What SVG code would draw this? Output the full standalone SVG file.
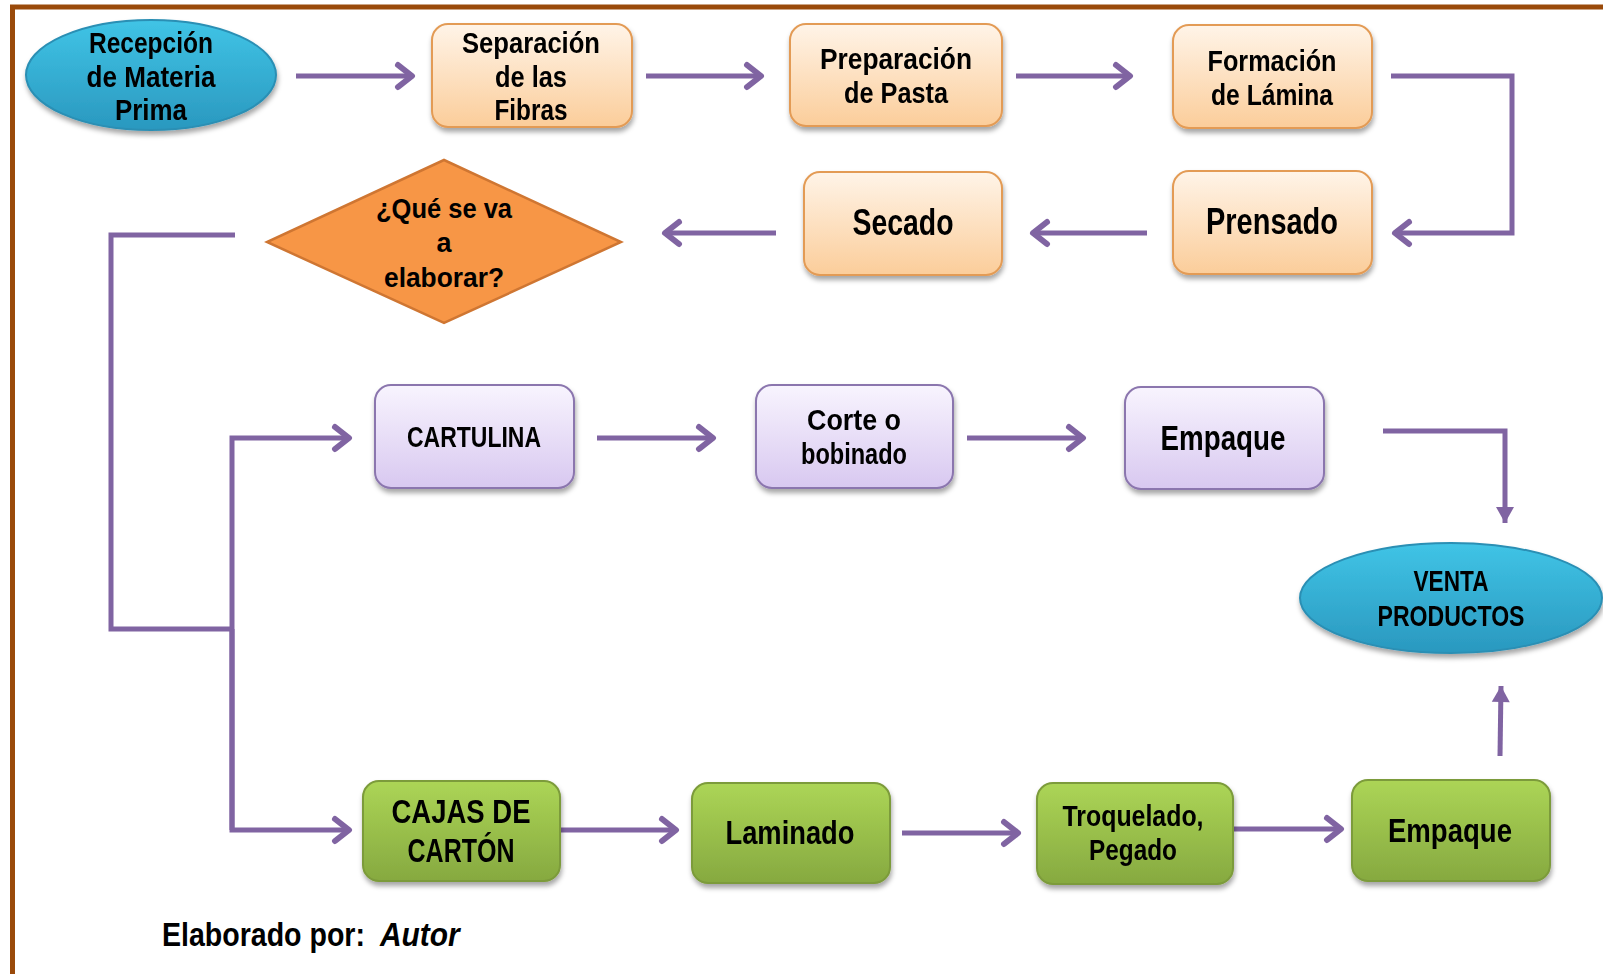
<svg xmlns="http://www.w3.org/2000/svg" width="1603" height="974" viewBox="0 0 1603 974">
<defs>
<linearGradient id="gPeach" x1="0" y1="0" x2="0" y2="1"><stop offset="0" stop-color="#fff4e8"/><stop offset="1" stop-color="#fbcd9a"/></linearGradient>
<linearGradient id="gPurple" x1="0" y1="0" x2="0" y2="1"><stop offset="0" stop-color="#f8f4fe"/><stop offset="1" stop-color="#d8c8f0"/></linearGradient>
<linearGradient id="gGreen" x1="0" y1="0" x2="0" y2="1"><stop offset="0" stop-color="#acd556"/><stop offset="1" stop-color="#86a940"/></linearGradient>
<linearGradient id="gBlue" x1="0" y1="0" x2="0" y2="1"><stop offset="0" stop-color="#40c4e6"/><stop offset="1" stop-color="#2a98bf"/></linearGradient>
<filter id="sh" x="-20%" y="-20%" width="140%" height="150%"><feDropShadow dx="1" dy="4" stdDeviation="2.5" flood-color="#000" flood-opacity="0.35"/></filter>
<marker id="chev" viewBox="-20 -15 24 30" refX="0" refY="0" markerWidth="24" markerHeight="30" markerUnits="userSpaceOnUse" orient="auto" overflow="visible">
<path d="M-14,-11 L0,0 L-14,11" fill="none" stroke="#8064a2" stroke-width="6" stroke-linecap="round" stroke-linejoin="round"/>
</marker>
<marker id="tri" viewBox="-16 -10 18 20" refX="0" refY="0" markerWidth="18" markerHeight="20" markerUnits="userSpaceOnUse" orient="auto" overflow="visible">
<path d="M-16,-9 L0,0 L-16,9 Z" fill="#8064a2"/>
</marker>
</defs>
<style>
.t{font-family:"Liberation Sans",Arial,sans-serif;font-weight:bold;fill:#000;text-anchor:middle}
.cr{font-family:"Liberation Sans",Arial,sans-serif;font-weight:bold;fill:#000;font-size:34px}
.peach{fill:url(#gPeach);stroke:#e39b55;stroke-width:2}
.purple{fill:url(#gPurple);stroke:#8b76ae;stroke-width:2}
.green{fill:url(#gGreen);stroke:#7c9b3a;stroke-width:2}
.blue{fill:url(#gBlue);stroke:#2b8fb4;stroke-width:2}
.c{fill:none;stroke:#8064a2;stroke-width:5}
.ca{marker-end:url(#chev)}
.ct{marker-end:url(#tri)}
</style>
<rect x="0" y="0" width="1603" height="974" fill="#ffffff"/>
<path d="M12.5,974 L12.5,7 L1603,7" fill="none" stroke="#9a4a0a" stroke-width="5"/>

<g id="connectors">
<path class="c ca" d="M296,76 L412,76"/>
<path class="c ca" d="M646,76 L761,76"/>
<path class="c ca" d="M1016,76 L1130,76"/>
<path class="c ca" d="M1391,76 L1512,76 L1512,233 L1395,233"/>
<path class="c ca" d="M1147,233 L1033,233"/>
<path class="c ca" d="M776,233 L665,233"/>
<path class="c" d="M235,235 L111,235 L111,629 L232,629"/>
<path class="c ca" d="M232,830 L232,438 L349,438"/>
<path class="c ca" d="M232,629 L232,830 L349,830"/>
<path class="c ca" d="M597,438 L713,438"/>
<path class="c ca" d="M967,438 L1083,438"/>
<path class="c ct" d="M1383,431 L1505,431 L1505,523"/>
<path class="c ca" d="M560,830 L676,830"/>
<path class="c ca" d="M902,833 L1018,833"/>
<path class="c ca" d="M1226,829 L1341,829"/>
<path class="c ct" d="M1500,756 L1501,686"/>
</g>

<g id="recepcion" filter="url(#sh)">
<ellipse class="blue" cx="151" cy="75" rx="125" ry="55"/>
<text class="t" font-size="29" x="151" y="53" textLength="124" lengthAdjust="spacingAndGlyphs">Recepción</text>
<text class="t" font-size="29" x="151" y="87" textLength="129" lengthAdjust="spacingAndGlyphs">de Materia</text>
<text class="t" font-size="29" x="151" y="120" textLength="72" lengthAdjust="spacingAndGlyphs">Prima</text>
</g>

<g id="separacion" filter="url(#sh)">
<rect class="peach" x="432" y="24" width="200" height="103" rx="16"/>
<text class="t" font-size="29" x="531" y="53" textLength="138" lengthAdjust="spacingAndGlyphs">Separación</text>
<text class="t" font-size="29" x="531" y="87" textLength="72" lengthAdjust="spacingAndGlyphs">de las</text>
<text class="t" font-size="29" x="531" y="120" textLength="73" lengthAdjust="spacingAndGlyphs">Fibras</text>
</g>

<g id="preparacion" filter="url(#sh)">
<rect class="peach" x="790" y="24" width="212" height="102" rx="16"/>
<text class="t" font-size="30" x="896" y="69" textLength="152" lengthAdjust="spacingAndGlyphs">Preparación</text>
<text class="t" font-size="30" x="896" y="103" textLength="104" lengthAdjust="spacingAndGlyphs">de Pasta</text>
</g>

<g id="formacion" filter="url(#sh)">
<rect class="peach" x="1173" y="25" width="199" height="103" rx="16"/>
<text class="t" font-size="30" x="1272" y="71" textLength="129" lengthAdjust="spacingAndGlyphs">Formación</text>
<text class="t" font-size="30" x="1272" y="105" textLength="122" lengthAdjust="spacingAndGlyphs">de Lámina</text>
</g>

<g id="prensado" filter="url(#sh)">
<rect class="peach" x="1173" y="171" width="199" height="103" rx="16"/>
<text class="t" font-size="36" x="1272" y="234" textLength="132" lengthAdjust="spacingAndGlyphs">Prensado</text>
</g>

<g id="secado" filter="url(#sh)">
<rect class="peach" x="804" y="172" width="198" height="103" rx="16"/>
<text class="t" font-size="36" x="903" y="235" textLength="101" lengthAdjust="spacingAndGlyphs">Secado</text>
</g>

<g id="decision">
<polygon points="444,160 621,242 444,323 267,242" fill="#f79646" stroke="#cf7632" stroke-width="2.5"/>
<text class="t" font-size="27" x="444" y="218" textLength="136" lengthAdjust="spacingAndGlyphs">¿Qué se va</text>
<text class="t" font-size="27" x="444" y="252">a</text>
<text class="t" font-size="27" x="444" y="287" textLength="120" lengthAdjust="spacingAndGlyphs">elaborar?</text>
</g>

<g id="cartulina" filter="url(#sh)">
<rect class="purple" x="375" y="385" width="199" height="103" rx="16"/>
<text class="t" font-size="29" x="474" y="447" textLength="134" lengthAdjust="spacingAndGlyphs">CARTULINA</text>
</g>

<g id="corte" filter="url(#sh)">
<rect class="purple" x="756" y="385" width="197" height="103" rx="16"/>
<text class="t" font-size="29" x="854" y="430" textLength="94" lengthAdjust="spacingAndGlyphs">Corte  o</text>
<text class="t" font-size="29" x="854" y="464" textLength="106" lengthAdjust="spacingAndGlyphs">bobinado</text>
</g>

<g id="empaque1" filter="url(#sh)">
<rect class="purple" x="1125" y="387" width="199" height="102" rx="16"/>
<text class="t" font-size="35" x="1223" y="450" textLength="125" lengthAdjust="spacingAndGlyphs">Empaque</text>
</g>

<g id="venta" filter="url(#sh)">
<ellipse class="blue" cx="1451" cy="598" rx="151" ry="55"/>
<text class="t" font-size="29" x="1451" y="591" textLength="75" lengthAdjust="spacingAndGlyphs">VENTA</text>
<text class="t" font-size="29" x="1451" y="626" textLength="147" lengthAdjust="spacingAndGlyphs">PRODUCTOS</text>
</g>

<g id="cajas" filter="url(#sh)">
<rect class="green" x="363" y="781" width="197" height="100" rx="16"/>
<text class="t" font-size="33" x="461" y="823" textLength="139" lengthAdjust="spacingAndGlyphs">CAJAS DE</text>
<text class="t" font-size="33" x="461" y="862" textLength="107" lengthAdjust="spacingAndGlyphs">CARTÓN</text>
</g>

<g id="laminado" filter="url(#sh)">
<rect class="green" x="692" y="783" width="198" height="100" rx="16"/>
<text class="t" font-size="33" x="790" y="844" textLength="129" lengthAdjust="spacingAndGlyphs">Laminado</text>
</g>

<g id="troquelado" filter="url(#sh)">
<rect class="green" x="1037" y="783" width="196" height="101" rx="16"/>
<text class="t" font-size="29" x="1133" y="826" textLength="141" lengthAdjust="spacingAndGlyphs">Troquelado,</text>
<text class="t" font-size="29" x="1133" y="860" textLength="88" lengthAdjust="spacingAndGlyphs">Pegado</text>
</g>

<g id="empaque2" filter="url(#sh)">
<rect class="green" x="1352" y="780" width="198" height="101" rx="16"/>
<text class="t" font-size="34" x="1450" y="842" textLength="124" lengthAdjust="spacingAndGlyphs">Empaque</text>
</g>

<g id="credit">
<text class="cr" transform="translate(162,946) scale(0.84,1)">Elaborado por:</text>
<text class="cr" font-style="italic" transform="translate(380,946) scale(0.88,1)">Autor</text>
</g>
</svg>
